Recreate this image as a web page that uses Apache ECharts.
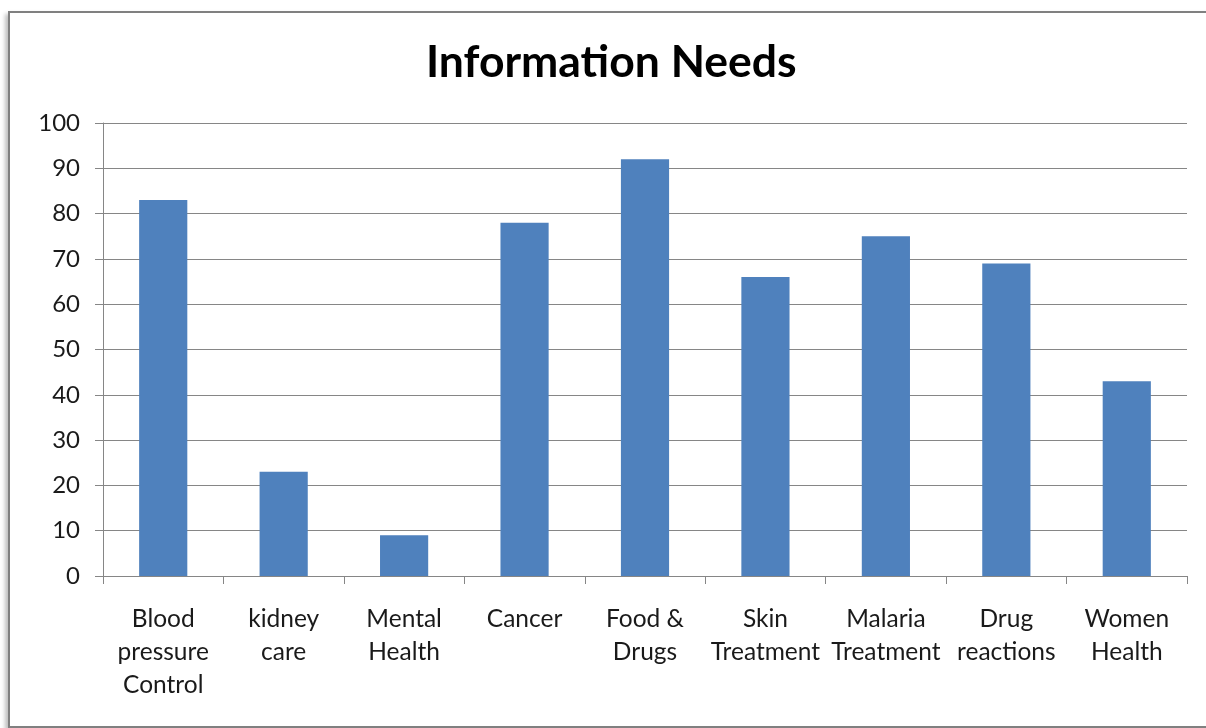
<!DOCTYPE html>
<html>
<head>
<meta charset="utf-8">
<script src="https://cdn.jsdelivr.net/npm/echarts@6/dist/echarts.min.js"></script>
<style>
html,body{margin:0;padding:0;background:#fff;}
#frame{position:absolute;left:8px;top:11px;width:1210px;height:713px;border:2px solid #808080;box-shadow:-3px 3px 4px rgba(0,0,0,0.25);background:#fff;}
#chart{position:absolute;left:0;top:0;width:1206px;height:728px;}
</style>
</head>
<body>
<div id="frame"></div>
<div id="chart"></div>
<script>
const categories = ["Blood\npressure\nControl","kidney\ncare","Mental\nHealth","Cancer","Food &\nDrugs","Skin\nTreatment","Malaria\nTreatment","Drug\nreactions","Women\nHealth"];
const values = [83, 23, 9, 78, 92, 66, 75, 69, 43];
const yTicks = {min: 0, max: 100, interval: 10};
const titleText = "Information Needs";

const chart = echarts.init(document.getElementById('chart'), null, {renderer:'canvas'});
chart.setOption({
  animation:false,
  backgroundColor:'transparent',
  title:{text:titleText,left:421,top:35,textStyle:{fontFamily:'Lato, "Open Sans", sans-serif',fontWeight:'bold',fontSize:44.5,color:'#000'}},
  grid:{left:103,right:19,top:123,bottom:152,containLabel:false},
  xAxis:{type:'category',data:categories,
    axisLine:{lineStyle:{color:'#868686',width:1}},
    axisTick:{show:true,length:8,inside:false,lineStyle:{color:'#868686'}},
    axisLabel:{interval:0,margin:27,fontFamily:'Lato, "Open Sans", sans-serif',fontSize:24.5,lineHeight:33,color:'#1a1a1a'}},
  yAxis:{type:'value',min:yTicks.min,max:yTicks.max,interval:yTicks.interval,
    axisLine:{show:true,lineStyle:{color:'#868686'}},
    axisTick:{show:true,length:8,lineStyle:{color:'#868686'}},
    splitLine:{lineStyle:{color:'#868686',width:1}},
    axisLabel:{margin:23,fontFamily:'Lato, "Open Sans", sans-serif',fontSize:24,color:'#1a1a1a'}},
  series:[{type:'bar',data:values,barWidth:'40%',itemStyle:{color:'#4F81BD'}}]
});
</script>
</body>
</html>
